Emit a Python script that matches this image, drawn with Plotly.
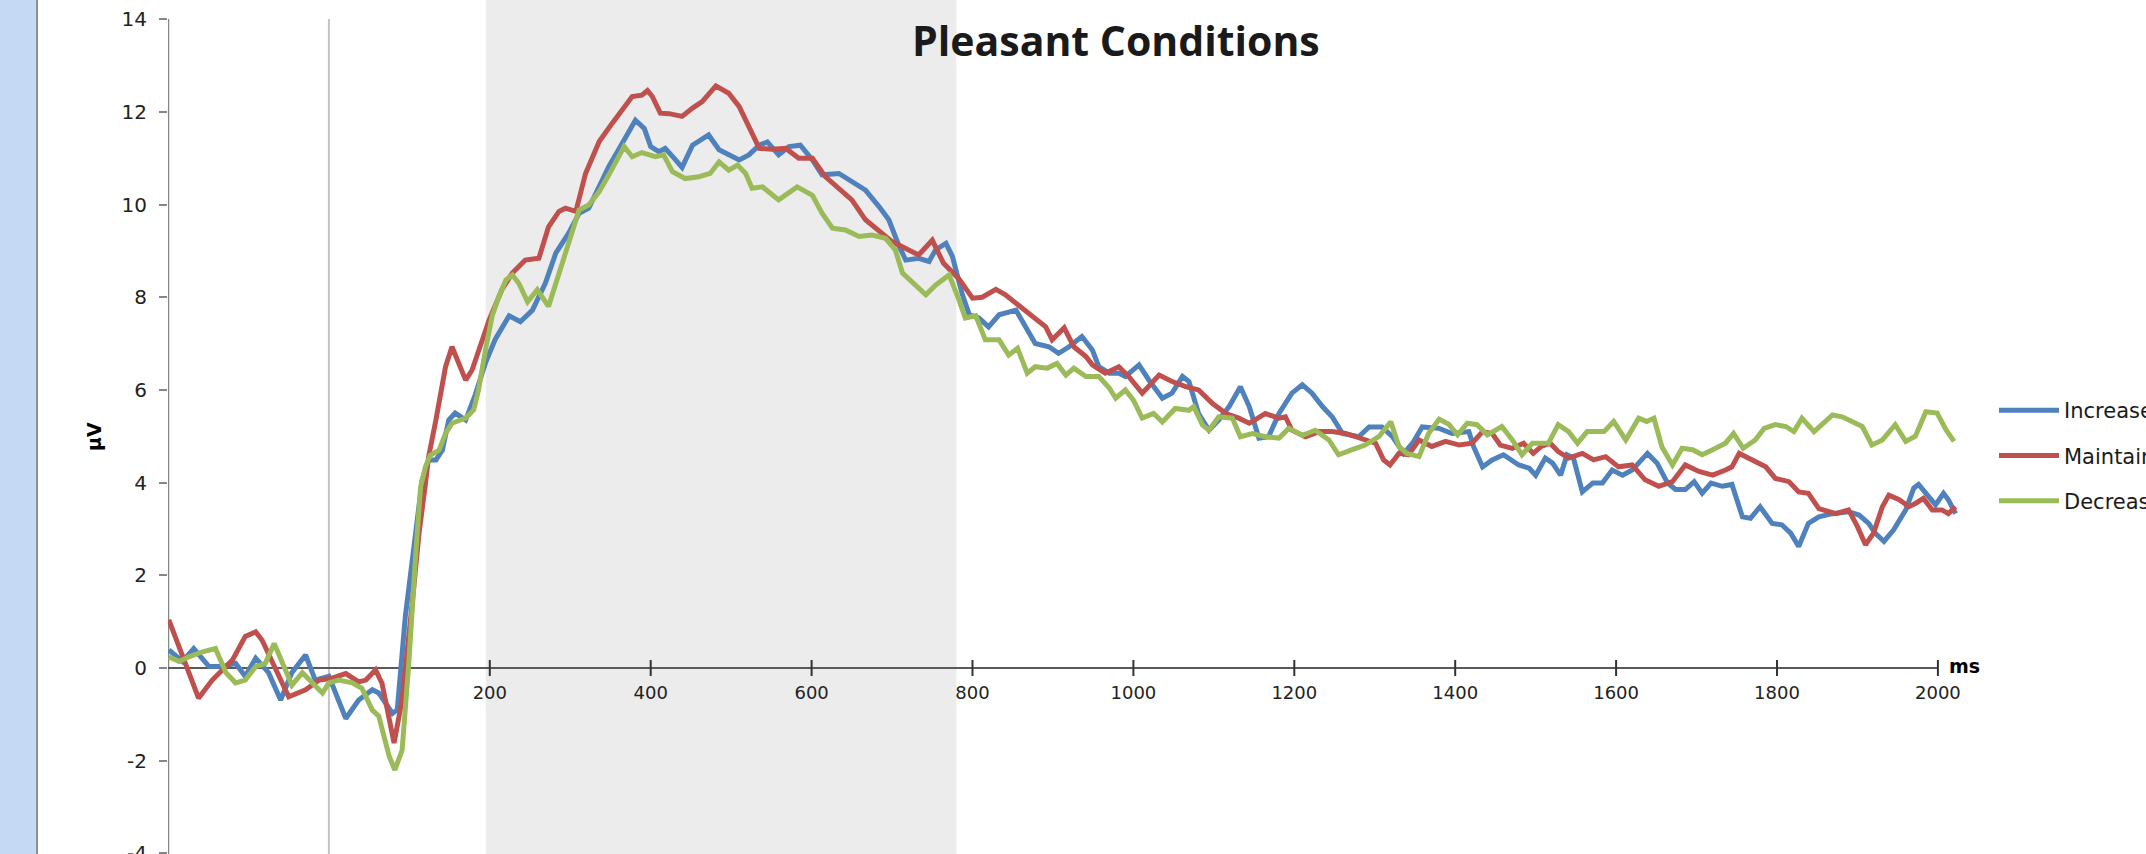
import plotly.graph_objects as go

# ---------------- data ----------------
title_text = "Pleasant Conditions"
series_names = ["Increase", "Maintain", "Decrease"]
series_colors = ["#4f81bd", "#c0504d", "#9bbb59"]
x_tick_values = [200, 400, 600, 800, 1000, 1200, 1400, 1600, 1800, 2000]
y_tick_values = [-4, -2, 0, 2, 4, 6, 8, 10, 12, 14]
x_unit = "ms"
y_unit = "µV"
shade_window = (195, 780)   # ms, grey analysis window
baseline_start = -200       # ms

increase = [(-199,0.39),(-182,0.14),(-168,0.42),(-149,0.03),(-132,0.03),(-116,0.10),(-104,-0.18),(-91,0.21),(-75,-0.10),(-60,-0.69),(-46,-0.10),(-29,0.28),(-17,-0.26),(0,-0.18),(21,-1.09),(37,-0.69),(54,-0.47),(62,-0.54),(79,-0.98),(85,-0.90),(95,1.11),(108,2.90),(116,4.06),(124,4.49),(133,4.49),(141,4.70),(149,5.35),(157,5.50),(170,5.35),(182,5.90),(195,6.60),(207,7.10),(224,7.60),(238,7.47),(253,7.72),(269,8.30),(282,8.95),(298,9.38),(311,9.81),(323,9.92),(336,10.38),(348,10.82),(360,11.18),(373,11.61),(381,11.82),(392,11.64),(400,11.25),(410,11.14),(418,11.21),(429,11.00),(439,10.80),(452,11.28),(472,11.50),(485,11.18),(497,11.07),(510,10.96),(522,11.07),(535,11.28),(545,11.35),(559,11.07),(572,11.25),(586,11.28),(601,10.96),(613,10.64),(634,10.67),(650,10.49),(667,10.31),(684,9.95),(696,9.67),(709,9.09),(717,8.80),(733,8.84),(746,8.77),(754,9.02),(767,9.16),(775,8.88),(787,8.08),(796,7.62),(808,7.55),(820,7.36),(833,7.62),(854,7.72),(866,7.36),(878,7.00),(895,6.93),(907,6.79),(920,6.93),(936,7.15),(949,6.86),(957,6.50),(970,6.36),(982,6.36),(990,6.29),(1007,6.54),(1019,6.22),(1036,5.82),(1048,5.93),(1061,6.29),(1069,6.18),(1081,5.49),(1094,5.13),(1106,5.35),(1119,5.64),(1133,6.07),(1144,5.64),(1156,4.96),(1168,4.99),(1181,5.49),(1197,5.93),(1210,6.11),(1222,5.93),(1235,5.64),(1247,5.42),(1260,5.06),(1280,4.99),(1293,5.20),(1309,5.20),(1322,4.99),(1336,4.63),(1347,4.85),(1359,5.20),(1380,5.17),(1396,5.06),(1417,5.10),(1423,4.77),(1434,4.34),(1446,4.49),(1460,4.60),(1479,4.38),(1492,4.31),(1500,4.16),(1512,4.53),(1521,4.42),(1531,4.16),(1539,4.60),(1547,4.53),(1558,3.80),(1571,3.99),(1583,3.99),(1595,4.27),(1608,4.16),(1620,4.27),(1639,4.63),(1651,4.42),(1664,3.99),(1674,3.85),(1686,3.85),(1697,4.02),(1707,3.77),(1718,3.99),(1732,3.92),(1744,3.96),(1757,3.26),(1767,3.23),(1779,3.48),(1794,3.12),(1806,3.09),(1817,2.91),(1827,2.62),(1839,3.12),(1852,3.26),(1869,3.33),(1889,3.37),(1902,3.30),(1914,3.12),(1922,2.91),(1933,2.73),(1945,2.98),(1960,3.41),(1970,3.88),(1976,3.96),(1989,3.70),(1997,3.52),(2007,3.77),(2013,3.63),(2022,3.33)]

maintain = [(-199,1.04),(-186,0.46),(-162,-0.65),(-145,-0.26),(-120,0.17),(-104,0.68),(-91,0.78),(-83,0.60),(-66,-0.04),(-50,-0.62),(-29,-0.47),(-12,-0.26),(4,-0.22),(21,-0.12),(37,-0.30),(46,-0.26),(58,-0.04),(66,-0.33),(81,-1.62),(91,-0.69),(104,1.47),(112,2.90),(120,3.98),(124,4.56),(133,5.35),(145,6.50),(153,6.93),(161,6.61),(170,6.21),(178,6.43),(191,7.08),(199,7.50),(215,8.16),(228,8.52),(244,8.80),(261,8.84),(273,9.52),(286,9.85),(294,9.92),(307,9.85),(319,10.67),(336,11.36),(352,11.75),(369,12.15),(377,12.33),(389,12.36),(396,12.46),(402,12.33),(412,11.97),(423,11.96),(439,11.90),(452,12.08),(464,12.22),(481,12.56),(497,12.40),(510,12.11),(522,11.68),(535,11.21),(551,11.19),(568,11.21),(584,11.00),(601,11.00),(617,10.60),(634,10.35),(650,10.10),(667,9.67),(684,9.41),(700,9.20),(717,9.05),(733,8.91),(750,9.23),(764,8.73),(783,8.40),(800,7.98),(812,8.00),(829,8.17),(841,8.05),(854,7.87),(866,7.72),(878,7.52),(891,7.36),(899,7.08),(914,7.34),(926,6.93),(941,6.72),(949,6.54),(965,6.36),(982,6.50),(994,6.29),(1011,5.93),(1032,6.32),(1048,6.18),(1065,6.07),(1081,6.00),(1098,5.71),(1115,5.49),(1131,5.39),(1144,5.28),(1164,5.49),(1181,5.39),(1189,5.42),(1197,5.13),(1214,4.99),(1231,5.10),(1247,5.10),(1264,5.06),(1284,4.96),(1301,4.85),(1311,4.49),(1319,4.38),(1330,4.63),(1342,4.60),(1355,4.92),(1371,4.78),(1388,4.89),(1405,4.81),(1421,4.85),(1434,5.10),(1446,5.06),(1456,4.81),(1471,4.74),(1485,4.85),(1497,4.63),(1507,4.78),(1518,4.85),(1528,4.67),(1541,4.53),(1558,4.63),(1572,4.49),(1587,4.56),(1603,4.34),(1620,4.38),(1636,4.06),(1653,3.92),(1670,4.02),(1686,4.38),(1703,4.24),(1720,4.16),(1736,4.27),(1744,4.34),(1753,4.63),(1769,4.49),(1786,4.34),(1798,4.09),(1815,4.02),(1827,3.80),(1839,3.77),(1852,3.44),(1873,3.33),(1889,3.41),(1900,3.05),(1910,2.66),(1920,2.91),(1931,3.48),(1939,3.73),(1952,3.63),(1964,3.48),(1972,3.55),(1982,3.66),(1993,3.41),(2005,3.41),(2013,3.33),(2022,3.48)]

decrease = [(-199,0.24),(-186,0.14),(-174,0.24),(-157,0.35),(-141,0.42),(-128,-0.10),(-116,-0.32),(-104,-0.26),(-91,0.03),(-79,0.10),(-68,0.53),(-58,0.10),(-46,-0.37),(-33,-0.10),(-21,-0.32),(-8,-0.54),(0,-0.32),(12,-0.26),(29,-0.32),(41,-0.44),(54,-0.91),(62,-1.04),(75,-1.91),(82,-2.20),(91,-1.77),(99,0.03),(108,2.47),(114,3.91),(120,4.34),(126,4.59),(137,4.70),(145,5.06),(153,5.28),(170,5.39),(180,5.57),(186,6.00),(195,6.90),(203,7.60),(211,8.00),(220,8.37),(228,8.48),(236,8.30),(247,7.90),(259,8.16),(273,7.80),(286,8.52),(298,9.16),(311,9.88),(323,9.99),(336,10.28),(348,10.64),(360,11.03),(367,11.25),(377,11.03),(389,11.12),(406,11.03),(416,11.07),(427,10.71),(443,10.56),(460,10.60),(474,10.67),(485,10.92),(497,10.74),(508,10.85),(518,10.67),(526,10.35),(539,10.38),(559,10.10),(582,10.38),(601,10.20),(613,9.81),(626,9.49),(642,9.45),(659,9.31),(675,9.34),(692,9.27),(704,9.02),(713,8.52),(725,8.33),(742,8.05),(754,8.26),(771,8.48),(783,7.95),(791,7.55),(804,7.60),(816,7.08),(833,7.08),(845,6.75),(856,6.90),(868,6.36),(878,6.50),(893,6.47),(905,6.57),(916,6.32),(926,6.47),(941,6.29),(957,6.29),(970,6.04),(978,5.82),(990,6.00),(1000,5.78),(1011,5.39),(1025,5.49),(1036,5.31),(1052,5.60),(1069,5.56),(1075,5.64),(1086,5.24),(1094,5.13),(1106,5.42),(1123,5.39),(1133,4.99),(1148,5.06),(1164,4.99),(1181,4.96),(1193,5.17),(1210,5.02),(1226,5.13),(1243,4.92),(1255,4.60),(1272,4.71),(1288,4.81),(1305,4.99),(1320,5.31),(1330,4.78),(1340,4.63),(1355,4.56),(1367,5.06),(1380,5.37),(1392,5.26),(1403,5.03),(1415,5.28),(1427,5.25),(1440,5.03),(1458,5.21),(1471,4.92),(1483,4.60),(1496,4.85),(1516,4.85),(1528,5.25),(1541,5.10),(1552,4.85),(1564,5.10),(1585,5.10),(1597,5.32),(1612,4.92),(1628,5.39),(1638,5.32),(1647,5.39),(1657,4.77),(1670,4.38),(1682,4.74),(1695,4.71),(1707,4.60),(1720,4.71),(1736,4.85),(1746,5.06),(1758,4.74),(1773,4.92),(1784,5.17),(1798,5.25),(1811,5.21),(1821,5.10),(1831,5.39),(1846,5.10),(1856,5.25),(1869,5.46),(1881,5.42),(1894,5.32),(1906,5.21),(1918,4.81),(1931,4.92),(1947,5.25),(1960,4.89),(1972,5.00),(1985,5.53),(1999,5.50),(2010,5.14),(2020,4.89)]

series_data = [increase, maintain, decrease]

# ---------------- layout constants ----------------
W, H = 2146, 854
ML, MR = 168, 183
PLOT_W = W - ML - MR
PX_PER_MS = 0.8045
X_MIN = baseline_start
X_MAX = X_MIN + PLOT_W / PX_PER_MS
Y_MIN, Y_MAX = -4.013, 14.412

def px_to_paper_x(px):
    return (px - ML) / PLOT_W

def py_to_paper_y(py):
    return 1 - py / H

fig = go.Figure()
for name, color, data in zip(series_names, series_colors, series_data):
    fig.add_trace(go.Scatter(
        x=[p[0] for p in data], y=[p[1] for p in data],
        mode="lines", name=name, legendgroup=name,
        line=dict(color=color, width=5),
        hoverinfo="skip",
    ))

shapes = []
# grey analysis window
shapes.append(dict(type="rect", xref="x", yref="paper", x0=shade_window[0], x1=shade_window[1],
                   y0=0, y1=1, fillcolor="#ececec", line=dict(width=0), layer="below"))
# left blue page strip + border
shapes.append(dict(type="rect", xref="paper", yref="paper", x0=px_to_paper_x(0), x1=px_to_paper_x(36),
                   y0=0, y1=1, fillcolor="#c6d9f4", line=dict(width=0), layer="below"))
shapes.append(dict(type="line", xref="paper", yref="paper", x0=px_to_paper_x(37), x1=px_to_paper_x(37),
                   y0=0, y1=1, line=dict(color="#8f8f8f", width=2), layer="below"))
# stimulus onset line
shapes.append(dict(type="line", xref="x", yref="y", x0=0, x1=0, y0=Y_MIN, y1=max(y_tick_values),
                   line=dict(color="#c4c4c4", width=2), layer="below"))
# y axis line
shapes.append(dict(type="line", xref="x", yref="y", x0=X_MIN, x1=X_MIN, y0=Y_MIN, y1=max(y_tick_values),
                   line=dict(color="#868686", width=2.5), layer="below"))
# x axis line at 0
shapes.append(dict(type="line", xref="x", yref="y", x0=X_MIN, x1=max(x_tick_values), y0=0, y1=0,
                   line=dict(color="#5a5a5a", width=2), layer="below"))
# crossing tick marks on x axis
for t in x_tick_values:
    shapes.append(dict(type="line", xref="x", yref="y", x0=t, x1=t, ysizemode="pixel", yanchor=0,
                       y0=-8, y1=8, line=dict(color="#333333", width=2), layer="below"))

annotations = [
    dict(text="<b>%s</b>" % title_text, xref="paper", yref="paper",
         x=px_to_paper_x(1116), y=py_to_paper_y(40), xanchor="center", yanchor="middle",
         showarrow=False, font=dict(family="Open Sans", size=41, color="#1a1a1a")),
    dict(text="<b>%s</b>" % y_unit, xref="paper", yref="paper",
         x=px_to_paper_x(94), y=py_to_paper_y(437), xanchor="center", yanchor="middle",
         textangle=-90, showarrow=False, font=dict(family="DejaVu Sans", size=19, color="#000000")),
    dict(text="<b>%s</b>" % x_unit, xref="x", yref="y", x=max(x_tick_values), y=0,
         xshift=9, yshift=2, xanchor="left", yanchor="middle", showarrow=False,
         font=dict(family="DejaVu Sans", size=19, color="#000000")),
]

fig.update_layout(
    width=W, height=H,
    margin=dict(l=ML, r=MR, t=0, b=0, autoexpand=False),
    paper_bgcolor="white", plot_bgcolor="white",
    shapes=shapes, annotations=annotations,
    showlegend=True,
    legend=dict(x=px_to_paper_x(1994), y=py_to_paper_y(390), xanchor="left", yanchor="top",
                font=dict(family="DejaVu Sans", size=21, color="#1a1a1a"),
                tracegroupgap=15, traceorder="grouped", itemwidth=60,
                bgcolor="rgba(0,0,0,0)", borderwidth=0),
    xaxis=dict(range=[X_MIN, X_MAX], anchor="free",
               position=(0 - Y_MIN) / (Y_MAX - Y_MIN),
               tickmode="array", tickvals=x_tick_values, ticktext=[str(v) for v in x_tick_values],
               ticks="", showline=False, showgrid=False, zeroline=False,
               ticklabelstandoff=12,
               tickfont=dict(family="DejaVu Sans", size=18, color="#222222")),
    yaxis=dict(range=[Y_MIN, Y_MAX], tickmode="array", tickvals=y_tick_values,
               ticktext=[str(v) for v in y_tick_values],
               ticks="outside", ticklen=8, tickwidth=2, tickcolor="#868686",
               showline=False, showgrid=False, zeroline=False,
               ticklabelstandoff=8, ticklabeloverflow="allow",
               tickfont=dict(family="DejaVu Sans", size=20, color="#222222")),
)

fig.write_html("out.html")
